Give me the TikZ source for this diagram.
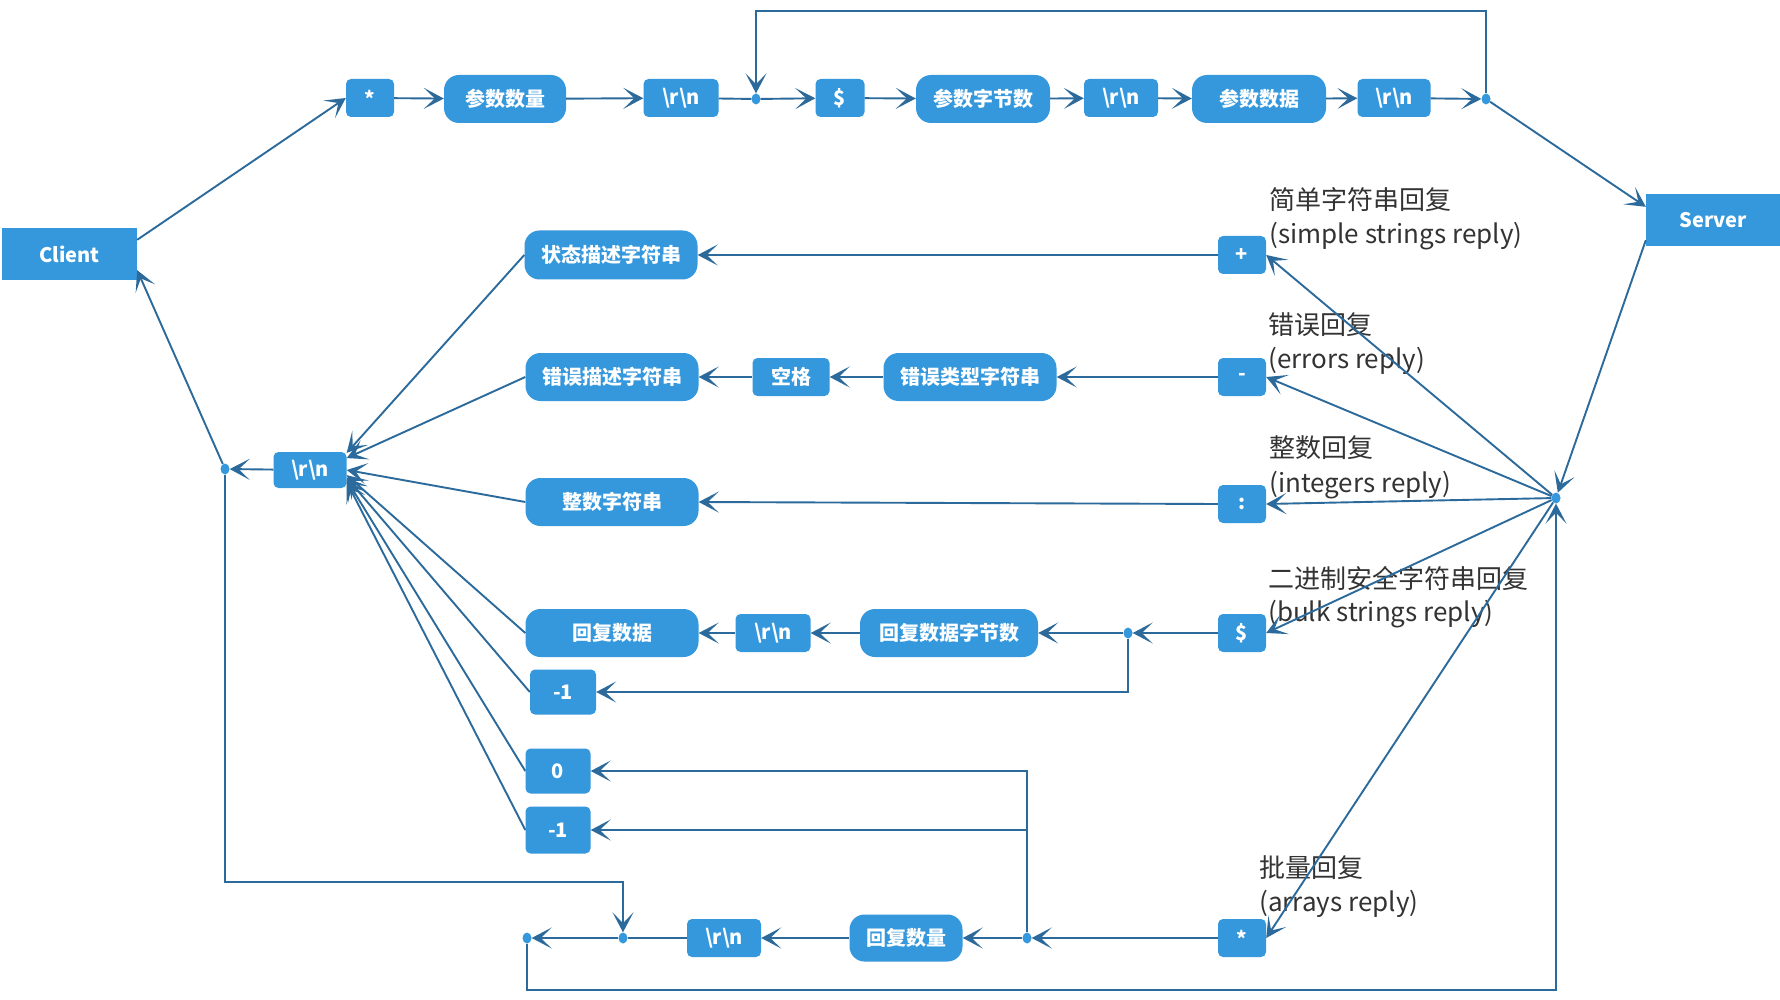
\documentclass[tikz,border=0pt]{standalone}
\usepackage{fontspec}
\setmainfont{Noto Sans CJK SC}
\usetikzlibrary{arrows.meta,calc,shapes.geometric}
\definecolor{boxblue}{HTML}{3598DC}
\definecolor{linec}{HTML}{2B6A9B}
\definecolor{labc}{HTML}{333333}
\tikzset{
  box/.style={fill=boxblue, text=white, font=\bfseries\fontsize{20}{23}\selectfont, inner sep=0pt, rounded corners=5pt, minimum height=38pt},
  pill/.style={box, rounded corners=15pt, minimum height=48pt},
  endbox/.style={box, rounded corners=0pt, minimum height=52pt, font=\bfseries\fontsize{20}{24}\selectfont},
  dotn/.style={ellipse, fill=boxblue, inner sep=0pt, minimum width=9pt, minimum height=11pt},
  arr/.style={draw=linec, line width=1.9pt, -{Stealth[length=20pt,width=21pt,inset=11pt]}},
  ln/.style={draw=linec, line width=1.9pt},
  lab/.style={anchor=west, text=labc, font=\fontsize{26}{29}\selectfont, inner sep=0pt},
}
\newcommand{\rn}{\textbackslash r\textbackslash n}
\begin{document}
\begin{tikzpicture}[x=1pt,y=-1pt]
\fill[white] (0,0) rectangle (1780,1000);
\useasboundingbox (0,0) rectangle (1780,1000);
% end nodes
\node[endbox, minimum width=135pt] (client) at (69.5,254) {Client};
\node[endbox, minimum width=134pt] (server) at (1713,220) {Server};
% top row
\node[box, minimum width=48pt] (star1) at (370,98) {*};
\node[pill, minimum width=122pt] (csl) at (505,99) {参数数量};
\node[box, minimum width=75pt] (rn1) at (681,98) {\rn};
\node[dotn] (d1) at (756,99) {};
\node[box, minimum width=49pt] (dol1) at (840,98) {\$};
\node[pill, minimum width=134pt] (czjs) at (983,99) {参数字节数};
\node[box, minimum width=74pt] (rn2) at (1121,98) {\rn};
\node[pill, minimum width=134pt] (csj) at (1259,99) {参数数据};
\node[box, minimum width=73pt] (rn3) at (1394,98) {\rn};
\node[dotn] (d2) at (1486,99) {};
% reply type boxes
\node[box, minimum width=48pt] (plus) at (1242,255) {+};
\node[box, minimum width=48pt] (minus) at (1242,377) {-};
\node[box, minimum width=48pt] (colon) at (1242,504) {:};
\node[box, minimum width=48pt] (dol2) at (1242,633) {\$};
\node[box, minimum width=48pt] (star2) at (1242,938) {*};
\node[dotn] (hub) at (1556,498) {};
% reply contents
\node[pill, minimum width=173pt, minimum height=49pt] (ztms) at (611,255) {状态描述字符串};
\node[pill, minimum width=173pt] (cwms) at (612,377) {错误描述字符串};
\node[box, minimum width=77pt] (kg) at (791,377) {空格};
\node[pill, minimum width=173pt] (cwlx) at (970,377) {错误类型字符串};
\node[pill, minimum width=173pt] (zs) at (612,502) {整数字符串};
\node[pill, minimum width=173pt] (hfsj) at (612,633) {回复数据};
\node[box, minimum width=75pt] (rn4) at (773,633) {\rn};
\node[pill, minimum width=178pt] (hfzjs) at (949,633) {回复数据字节数};
\node[dotn] (d3) at (1128,633) {};
\node[box, minimum width=66pt, minimum height=45pt] (neg1a) at (563,692) {-1};
\node[box, minimum width=65pt, minimum height=45pt] (zero) at (558,771) {0};
\node[box, minimum width=65pt, minimum height=47pt] (neg1b) at (558,830) {-1};
\node[box, minimum width=73pt, minimum height=36pt] (rnL) at (310,470) {\rn};
\node[dotn] (dL) at (225,469) {};
% bottom row
\node[dotn] (dB1) at (527,938) {};
\node[dotn] (dB2) at (623,938) {};
\node[box, minimum width=74pt] (rn5) at (724,938) {\rn};
\node[pill, minimum width=113pt, minimum height=47pt] (hfsl) at (906,938) {回复数量};
\node[dotn] (d4) at (1027,938) {};
% labels
\node[lab] (l1a) at (1269,200) {简单字符串回复};
\node[lab] (l1b) at (1269,236) {(simple strings reply)};
\node[lab] (l2a) at (1268,325) {错误回复};
\node[lab] (l2b) at (1268,361) {(errors reply)};
\node[lab] (l3a) at (1269,448) {整数回复};
\node[lab] (l3b) at (1269,485) {(integers reply)};
\node[lab] (l4a) at (1268,578) {二进制安全字符串回复};
\node[lab] (l4b) at (1268,614) {(bulk strings reply)};
\node[lab] (l5a) at (1259,868) {批量回复};
\node[lab] (l5b) at (1259,904) {(arrays reply)};
% request connectors
\draw[arr] ($(client.north east)+(0,12)$) -- (star1.west);
\draw[arr] (star1) -- (csl);
\draw[arr] (csl) -- (rn1);
\draw[ln] (rn1) -- (d1);
\draw[arr] (d1) -- (dol1);
\draw[arr] (dol1) -- (czjs);
\draw[arr] (czjs) -- (rn2);
\draw[arr] (rn2) -- (csj);
\draw[arr] (csj) -- (rn3);
\draw[arr] (rn3) -- (d2);
\draw[arr] (d2) -- ++(0,-88) -| (d1);
\draw[arr] (d2) -- ($(server.north west)+(0,13)$);
\draw[arr] ($(server.south west)+(0,-6)$) -- (hub);
% hub to reply types
\draw[arr] (hub) -- (plus.east);
\draw[arr] (hub) -- (minus.east);
\draw[arr] (hub) -- (colon.east);
\draw[arr] (hub) -- (dol2.east);
\draw[arr] (hub) -- (star2.east);
% rows
\draw[arr] (plus) -- (ztms);
\draw[arr] (minus) -- (cwlx);
\draw[arr] (cwlx) -- (kg);
\draw[arr] (kg) -- (cwms);
\draw[arr] (colon.west) -- (zs.east);
\draw[arr] (dol2) -- (d3);
\draw[arr] (d3) -- (hfzjs);
\draw[arr] (hfzjs) -- (rn4);
\draw[arr] (rn4) -- (hfsj);
\draw[arr] (d3) |- (neg1a.east);
\draw[arr] (star2) -- (d4);
\draw[arr] (d4) -- (hfsl);
\draw[arr] (hfsl) -- (rn5);
\draw[ln] (rn5) -- (dB2);
\draw[arr] (dB2) -- (dB1);
\draw[arr] (d4) |- (zero.east);
\draw[arr] (d4) |- (neg1b.east);
% into left \r\n
\draw[arr] (ztms.west) -- (rnL.25);
\draw[arr] (cwms.west) -- (rnL.18);
\draw[arr] (zs.west) -- (rnL.east);
\draw[arr] (hfsj.west) -- (rnL.-8);
\draw[arr] (neg1a.west) -- (rnL.-12);
\draw[arr] (zero.west) -- (rnL.-15);
\draw[arr] (neg1b.west) -- (rnL.-18);
\draw[arr] (rnL) -- (dL);
\draw[arr] (dL) -- ($(client.south east)+(0,-10)$);
% loops
\draw[arr] (dL) -- ++(0,413) -| (dB2);
\draw[arr] (dB1) -- ++(0,52) -| (hub);
\end{tikzpicture}
\end{document}
